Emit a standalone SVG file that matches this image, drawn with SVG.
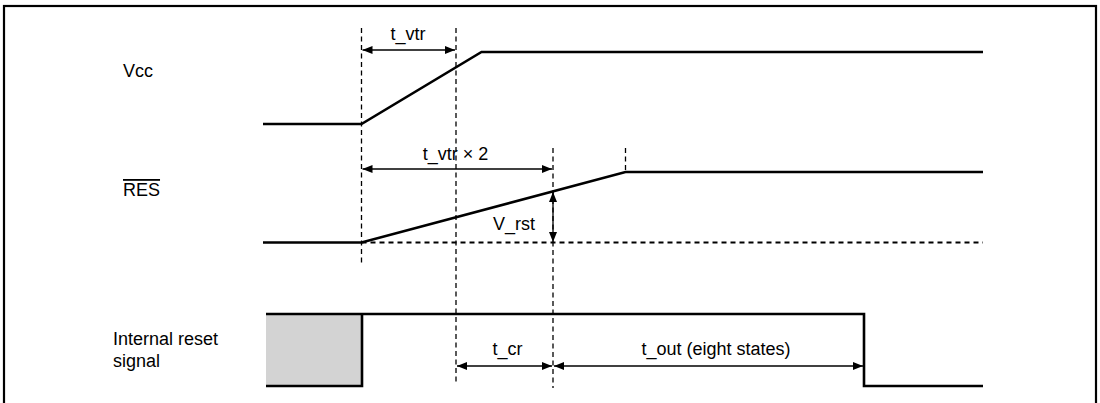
<svg xmlns="http://www.w3.org/2000/svg" width="1100" height="403" viewBox="0 0 1100 403">
<defs>
<marker id="ah" viewBox="0 0 10 8" refX="10" refY="4" markerWidth="10" markerHeight="8" markerUnits="userSpaceOnUse" orient="auto-start-reverse">
<path d="M0,0 L10,4 L0,8 Z" fill="#000"/>
</marker>
</defs>
<style>
text{font-family:"Liberation Sans",Arial,sans-serif;font-size:18px;fill:#000}
.sig{fill:none;stroke:#000;stroke-width:2.6}
.guide{fill:none;stroke:#000;stroke-width:1.3;stroke-dasharray:5,3.5}
.base{fill:none;stroke:#000;stroke-width:2;stroke-dasharray:5,4}
.dim{fill:none;stroke:#000;stroke-width:1.3;marker-start:url(#ah);marker-end:url(#ah)}
.mid{text-anchor:middle}
</style>
<rect x="4" y="6" width="1092" height="420" fill="#fff" stroke="#000" stroke-width="2.2"/>
<g id="labels">
<text x="123" y="77">Vcc</text>
<text x="123" y="196" text-decoration="overline">RES</text>
<text x="113" y="345">Internal reset</text>
<text x="113" y="367">signal</text>
</g>
<g id="guides">
<line class="guide" x1="361.5" y1="28" x2="361.5" y2="266"/>
<line class="guide" x1="456" y1="28" x2="456" y2="383"/>
<line class="guide" x1="553" y1="148" x2="553" y2="388"/>
<line class="guide" x1="625.5" y1="148" x2="625.5" y2="172"/>
</g>
<g id="vcc">
<path class="sig" d="M263,124 H361.5 L481.5,52 H983"/>
</g>
<g id="res">
<line class="base" x1="361.5" y1="242.5" x2="983" y2="242.5"/>
<path class="sig" d="M263,242.5 H361.5 L625.5,172 H983"/>
</g>
<g id="internal-reset">
<rect x="266" y="314" width="96" height="72" fill="#d3d3d3"/>
<path class="sig" d="M266,386 H362 V314"/>
<path class="sig" d="M266,314 H864 V386 H983"/>
</g>
<g id="connectors">
<line class="dim" x1="362.5" y1="50" x2="455" y2="50"/>
<line class="dim" x1="362.5" y1="169" x2="552" y2="169"/>
<line class="dim" x1="553" y1="192" x2="553" y2="242"/>
<line class="dim" x1="457" y1="366" x2="552" y2="366"/>
<line class="dim" x1="554" y1="366" x2="863" y2="366"/>
</g>
<g id="dim-labels">
<text class="mid" x="408" y="40">t_vtr</text>
<text class="mid" x="455.5" y="160">t_vtr × 2</text>
<text x="535" y="230" text-anchor="end">V_rst</text>
<text class="mid" x="507.5" y="355">t_cr</text>
<text class="mid" x="716" y="355">t_out (eight states)</text>
</g>
</svg>
